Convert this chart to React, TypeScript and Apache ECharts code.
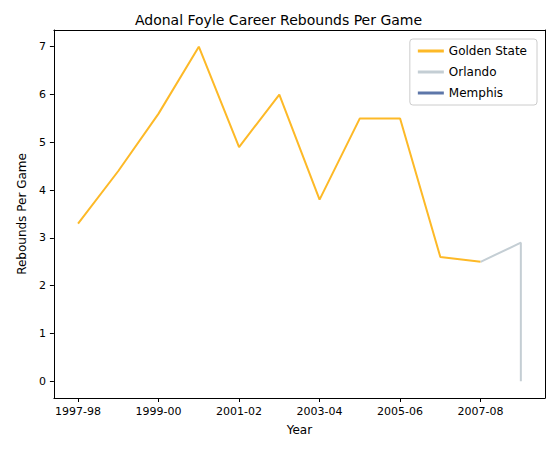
import React, { useEffect, useRef } from "react";
import * as echarts from "echarts";

const seasons = ["1997-98", "1998-99", "1999-00", "2000-01", "2001-02", "2002-03", "2003-04", "2004-05", "2005-06", "2006-07", "2007-08", "2008-09"];
const gswIdx = [0, 1, 2, 3, 4, 5, 6, 7, 8, 9, 10];
const gswReb = [3.3, 4.4, 5.6, 7.0, 4.9, 6.0, 3.8, 5.5, 5.5, 2.6, 2.5];
const orlIdx = [10, 11, 11];
const orlReb = [2.5, 2.9, 0.0];
const xTicks = [0, 2, 4, 6, 8, 10];
const yTicks = [0, 1, 2, 3, 4, 5, 6, 7];

const App: React.FC = () => {
  const ref = useRef<HTMLDivElement>(null);
  useEffect(() => {
    if (!ref.current) return;
    const chart = echarts.init(ref.current, null, { renderer: "svg" });
    const font = "DejaVu Sans";
    const xMin = -0.6;
    const xMax = 11.6;
    const yMin = -0.35;
    const yMax = 7.35;
    chart.setOption({
      animation: false,
      textStyle: { fontFamily: font },
      title: {
        text: "Adonal Foyle Career Rebounds Per Game",
        left: "center",
        top: 0,
        textStyle: { fontFamily: font, fontSize: 14, fontWeight: "normal", color: "#000" },
      },
      legend: {
        orient: "vertical",
        right: 12,
        top: 31,
        itemWidth: 26,
        itemHeight: 3,
        icon: "rect",
        backgroundColor: "#fff",
        borderColor: "#ccc",
        borderWidth: 1,
        borderRadius: 3,
        padding: [6, 10, 6, 8],
        itemGap: 9,
        textStyle: { fontFamily: font, fontSize: 12, color: "#000" },
        data: ["Golden State", "Orlando", "Memphis"],
      },
      grid: { left: 36, right: 4, top: 22, bottom: 47 },
      xAxis: [
        {
          type: "value",
          min: xMin,
          max: xMax,
          name: "Year",
          nameLocation: "middle",
          nameGap: 26,
          nameTextStyle: { fontFamily: font, fontSize: 12, color: "#000" },
          axisLine: { onZero: false, lineStyle: { color: "#000" } },
          axisTick: { show: true, length: 4, lineStyle: { color: "#000" }, customValues: xTicks },
          axisLabel: {
            color: "#000",
            fontSize: 11,
            customValues: xTicks,
            formatter: (v: number) => seasons[Math.round(v)] ?? "",
          },
          splitLine: { show: false },
        },
        {
          type: "value",
          position: "top",
          min: xMin,
          max: xMax,
          axisLine: { onZero: false, lineStyle: { color: "#000" } },
          axisTick: { show: false },
          axisLabel: { show: false },
          splitLine: { show: false },
        },
      ],
      yAxis: [
        {
          type: "value",
          min: yMin,
          max: yMax,
          name: "Rebounds Per Game",
          nameLocation: "middle",
          nameGap: 24,
          nameTextStyle: { fontFamily: font, fontSize: 12, color: "#000" },
          axisLine: { show: true, onZero: false, lineStyle: { color: "#000" } },
          axisTick: { show: true, length: 4, lineStyle: { color: "#000" }, customValues: yTicks },
          axisLabel: { color: "#000", fontSize: 11, customValues: yTicks },
          splitLine: { show: false },
        },
        {
          type: "value",
          position: "right",
          min: yMin,
          max: yMax,
          axisLine: { show: true, onZero: false, lineStyle: { color: "#000" } },
          axisTick: { show: false },
          axisLabel: { show: false },
          splitLine: { show: false },
        },
      ],
      series: [
        {
          name: "Golden State",
          type: "line",
          data: gswIdx.map((x, i) => [x, gswReb[i]]),
          showSymbol: false,
          color: "#FDB927",
          lineStyle: { width: 2 },
        },
        {
          name: "Orlando",
          type: "line",
          data: orlIdx.map((x, i) => [x, orlReb[i]]),
          showSymbol: false,
          color: "#C4CED4",
          lineStyle: { width: 2 },
        },
        {
          name: "Memphis",
          type: "line",
          data: [],
          showSymbol: false,
          color: "#5D76A9",
          lineStyle: { width: 2 },
        },
      ],
    });
    return () => chart.dispose();
  }, []);
  return <div ref={ref} style={{ width: 541, height: 437 }} />;
};

export default App;
